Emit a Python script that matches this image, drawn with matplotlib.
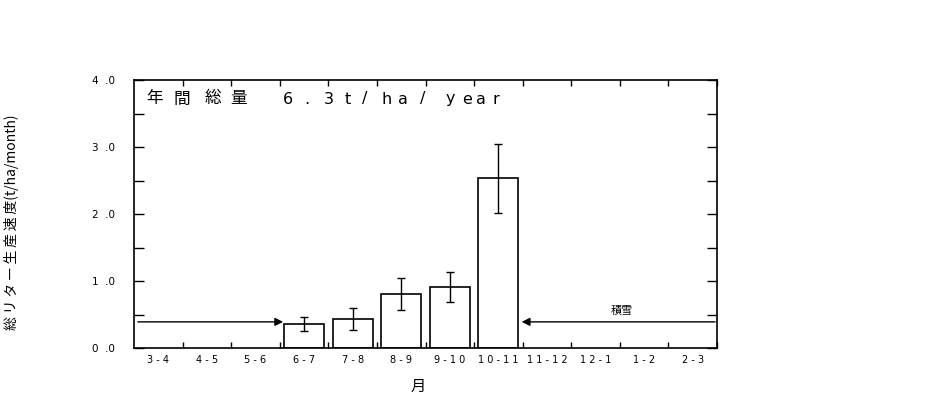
import numpy as np
import matplotlib
matplotlib.use('Agg')
import matplotlib.pyplot as plt
from matplotlib.ticker import MultipleLocator

plt.rcParams['font.family'] = ['Noto Sans CJK JP', 'DejaVu Sans']

# 月区分と総リター生産速度 (t/ha/month)
MONTHS = ['3 - 4', '4 - 5', '5 - 6', '6 - 7', '7 - 8', '8 - 9', '9 - 1 0',
          '1 0 - 1 1', '1 1 - 1 2', '1 2 - 1', '1 - 2', '2 - 3']
RATE = [np.nan, np.nan, np.nan, 0.36, 0.43, 0.81, 0.91, 2.53,
        np.nan, np.nan, np.nan, np.nan]
RATE_ERR = [np.nan, np.nan, np.nan, 0.10, 0.16, 0.24, 0.23, 0.52,
            np.nan, np.nan, np.nan, np.nan]
Y_TICKS = [0.0, 1.0, 2.0, 3.0, 4.0]
Y_TICK_LABELS = ['0  .0', '1  .0', '2  .0', '3  .0', '4  .0']
# 年間総量の文字 (文字ごとに間隔をあけて書く; 中心位置 px)
TOTAL_CHARS = ['年', '間', '総', '量', '6', '.', '3', 't', '/',
               'h', 'a', '/', 'y', 'e', 'a', 'r']
TOTAL_X_PX = [155, 182, 213, 239, 288, 307, 329, 348, 365,
              387, 403, 423, 450, 467, 481, 496]

W, H = 927, 403
rate = np.array(RATE)
err = np.array(RATE_ERR)
index = np.arange(len(MONTHS))
has = ~np.isnan(rate)

fig = plt.figure(figsize=(W / 100, H / 100), dpi=100)
ax = fig.add_axes([134 / W, 1 - 348 / H, 583 / W, 268 / H])

ax.bar(index[has], rate[has], 0.82, color='white', edgecolor='black',
       linewidth=1.2, yerr=err[has], capsize=3,
       error_kw={'ecolor': 'black', 'elinewidth': 1.0, 'capthick': 1.0})

ax.set_xlim(-0.5, len(MONTHS) - 0.5)
ax.set_ylim(0, 4.0)

# x: 目盛は区切り位置、ラベルは各月の中央
ax.set_xticks(index + 0.5)
ax.set_xticklabels([])
ax.set_xticks(index, minor=True)
ax.set_xticklabels(MONTHS, minor=True, fontsize=7, family='DejaVu Sans')
ax.tick_params(axis='x', which='major', direction='in', length=4,
               top=True, bottom=True, width=1)
ax.tick_params(axis='x', which='minor', length=0, pad=5)

ax.set_yticks(Y_TICKS)
ax.set_yticklabels(Y_TICK_LABELS, fontsize=7.5, family='DejaVu Sans')
ax.yaxis.set_minor_locator(MultipleLocator(0.5))
ax.tick_params(axis='y', which='both', direction='in', length=7,
               left=True, right=True, width=1, pad=14)

for s in ax.spines.values():
    s.set_linewidth(1.2)

fig.text(418 / W, 1 - 386 / H, '月', fontsize=11, ha='center', va='center')
ylab = '\u2009'.join('総リター生産速度') + '(t/ha/month)'
fig.text(12 / W, 1 - 222 / H, ylab, fontsize=10, rotation=90,
         ha='center', va='center')

for ch, px in zip(TOTAL_CHARS, TOTAL_X_PX):
    fam = ['Noto Sans CJK JP'] if ord(ch) > 255 else ['DejaVu Sans']
    fig.text(px / W, 1 - 99 / H, ch, fontsize=12 if ord(ch) > 255 else 11.5,
             family=fam, ha='center', va='center')

arrow = dict(arrowstyle='-|>', color='black', lw=1, mutation_scale=12,
             shrinkA=0, shrinkB=0)
ax.annotate('', xy=(2.57, 0.39), xytext=(-0.42, 0.39), arrowprops=arrow)
ax.annotate('', xy=(7.48, 0.39), xytext=(11.46, 0.39), arrowprops=arrow)
ax.text(9.55, 0.56, '積雪', fontsize=8, ha='center', va='center')

fig.savefig('out.png', dpi=100)
